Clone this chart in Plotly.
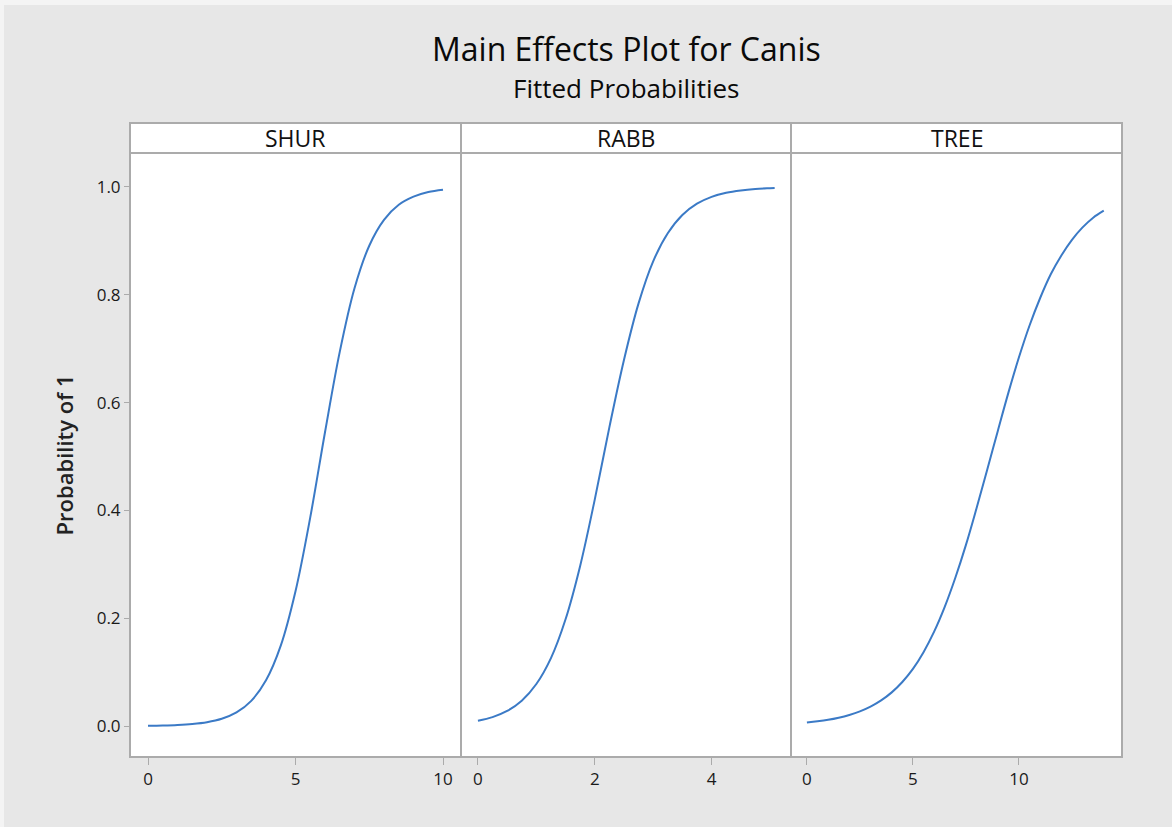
import plotly.graph_objects as go

# ---------------- data ----------------
panels = ["SHUR", "RABB", "TREE"]

shur_x = [0, 0.5, 1, 1.5, 2, 2.5, 3, 3.5, 4, 4.5, 5, 5.5, 6, 6.5, 7, 7.5, 8, 8.5, 9, 9.5, 10]
shur_p = [0.00055, 0.00105, 0.0020, 0.0038, 0.0071, 0.0134, 0.0251, 0.0466, 0.0847, 0.149,
          0.250, 0.387, 0.545, 0.694, 0.812, 0.891, 0.939, 0.967, 0.982, 0.9906, 0.995]

rabb_x = [0, 0.25, 0.5, 0.75, 1.0, 1.25, 1.5, 1.75, 2.0, 2.25, 2.5, 2.75, 3.0, 3.25, 3.5,
          3.75, 4.0, 4.25, 4.5, 4.75, 5.0, 5.08]
rabb_p = [0.0098, 0.0165, 0.0279, 0.0469, 0.0779, 0.126, 0.198, 0.297, 0.420, 0.554, 0.679,
          0.784, 0.862, 0.914, 0.948, 0.969, 0.9817, 0.9892, 0.9936, 0.9963, 0.9978, 0.9982]

tree_x = [0, 0.5, 1, 1.5, 2, 2.5, 3, 3.5, 4, 4.5, 5, 5.5, 6, 6.5, 7, 7.5, 8, 8.5, 9, 9.5,
          10, 10.5, 11, 11.5, 12, 12.5, 13, 13.5, 14]
tree_p = [0.0065, 0.0087, 0.0115, 0.0154, 0.0205, 0.0271, 0.0359, 0.0474, 0.0624, 0.0817,
          0.106, 0.137, 0.175, 0.221, 0.275, 0.336, 0.404, 0.475, 0.547, 0.618,
          0.684, 0.743, 0.794, 0.838, 0.873, 0.902, 0.925, 0.943, 0.956]

x_ranges = [[-0.61, 10.61], [-0.29, 5.36], [-0.75, 14.86]]
x_ticks = [[0, 5, 10], [0, 2, 4], [0, 5, 10]]
y_ticks = [0.0, 0.2, 0.4, 0.6, 0.8, 1.0]
y_range = [-0.0575, 1.063]

# ---------------- figure ----------------
FONT = "Open Sans, Noto Sans, sans-serif"
LINE = "#3b7ac6"
FRAME = "#ababab"
BG = "#e7e7e7"

W, H = 1172, 827
L, R, T, B = 130, 50, 153, 70
plot_w = W - L - R
plot_h = H - T - B
b1 = (461 - L) / plot_w
b2 = (791 - L) / plot_w
domains = [[0, b1], [b1, b2], [b2, 1]]
strip_top = 1 + 30 / plot_h

fig = go.Figure()
series = [(shur_x, shur_p), (rabb_x, rabb_p), (tree_x, tree_p)]
for i, (xs, ps) in enumerate(series):
    xa = "x" if i == 0 else f"x{i+1}"
    fig.add_trace(go.Scatter(x=xs, y=ps, mode="lines", xaxis=xa, yaxis="y",
                             line=dict(color=LINE, width=2, shape="spline"),
                             showlegend=False, hoverinfo="skip"))

layout = dict(
    width=W, height=H,
    paper_bgcolor=BG, plot_bgcolor="white",
    margin=dict(l=L, r=R, t=T, b=B),
    font=dict(family=FONT, color="#222222"),
    showlegend=False,
    yaxis=dict(range=y_range, tickvals=y_ticks, tickformat=".1f",
               ticks="outside", ticklen=5, tickcolor=FRAME,
               tickfont=dict(size=17, color="#1a1a1a"),
               showgrid=False, zeroline=False, showline=False, anchor="x",
               title=dict(text="Probability of 1", font=dict(size=22, weight=600),
                          standoff=16)),
)
for i in range(3):
    key = "xaxis" if i == 0 else f"xaxis{i+1}"
    layout[key] = dict(domain=domains[i], range=x_ranges[i], tickvals=x_ticks[i],
                       ticks="outside", ticklen=7, tickcolor=FRAME,
                       tickfont=dict(size=17, color="#1a1a1a"), showgrid=False,
                       zeroline=False, showline=False, anchor="y")
fig.update_layout(**layout)

# paper-coordinate helpers for the outer edge
fx0 = -L / plot_w
fx1 = 1 + R / plot_w
fy0 = -B / plot_h
fy1 = 1 + T / plot_h

shapes = []
# light outer edge (top and left) as in the reference
shapes.append(dict(type="rect", xref="paper", yref="paper", x0=fx0, x1=fx1,
                   y0=fy1 - 5 / plot_h, y1=fy1, fillcolor="#f4f4f4", line=dict(width=0),
                   layer="below"))
shapes.append(dict(type="rect", xref="paper", yref="paper", x0=fx0, x1=fx0 + 4 / plot_w,
                   y0=fy0, y1=fy1, fillcolor="#f4f4f4", line=dict(width=0), layer="below"))
# plot frame
shapes.append(dict(type="rect", xref="paper", yref="paper", x0=0, x1=1, y0=0, y1=1,
                   line=dict(color=FRAME, width=2), layer="above"))
# strip band
shapes.append(dict(type="rect", xref="paper", yref="paper", x0=0, x1=1, y0=1, y1=strip_top,
                   fillcolor="white", line=dict(color=FRAME, width=2), layer="above"))
# panel dividers
for b in (b1, b2):
    shapes.append(dict(type="line", xref="paper", yref="paper", x0=b, x1=b, y0=0, y1=strip_top,
                       line=dict(color=FRAME, width=2), layer="above"))
fig.update_layout(shapes=shapes)

annotations = []
for i, name in enumerate(panels):
    annotations.append(dict(text=name, xref="paper", yref="paper",
                            x=(domains[i][0] + domains[i][1]) / 2, y=(1 + strip_top) / 2,
                            showarrow=False, xanchor="center", yanchor="middle",
                            font=dict(size=23, color="#111111")))
annotations.append(dict(text="Main Effects Plot for Canis", xref="paper", yref="paper",
                        x=0.5, xanchor="center", y=1 + (T - 48) / plot_h, yanchor="middle",
                        showarrow=False, font=dict(size=32, color="#0a0a0a", weight=500)))
annotations.append(dict(text="Fitted Probabilities", xref="paper", yref="paper",
                        x=0.5, xanchor="center", y=1 + (T - 88) / plot_h, yanchor="middle",
                        showarrow=False, font=dict(size=26, color="#0a0a0a", weight=500)))
fig.update_layout(annotations=annotations)

fig.write_html("out.html", config={"displayModeBar": False},
               post_script="document.body.style.margin='0px';"
                           "document.body.style.overflow='hidden';")
